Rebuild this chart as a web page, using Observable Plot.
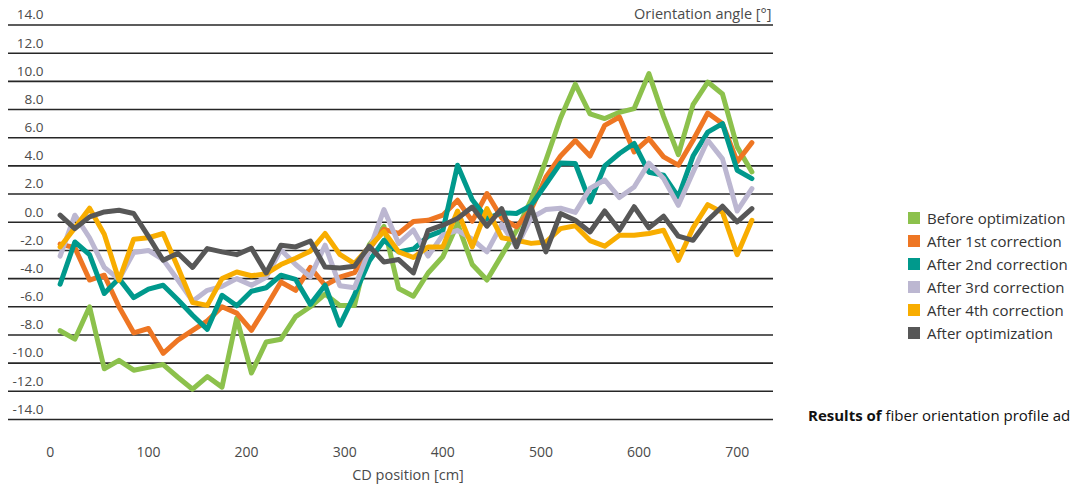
<!DOCTYPE html>
<html><head><meta charset="utf-8">
<script src="https://cdn.jsdelivr.net/npm/d3@7"></script>
<script src="https://cdn.jsdelivr.net/npm/@observablehq/plot@0.6"></script>
<style>
html,body{margin:0;padding:0;background:#fff;}
body{width:1074px;height:486px;overflow:hidden;position:relative;font-family:'Open Sans',sans-serif;}
#chart{position:absolute;left:0;top:0;}
#legend{position:absolute;left:908px;top:206px;}
.row{height:23.1px;display:flex;align-items:center;font-size:15px;color:#333;white-space:nowrap;}
.sw{width:12px;height:12px;margin-right:7px;flex:none;}
#caption{position:absolute;left:808px;top:405px;font-size:15px;line-height:20px;white-space:nowrap;color:#111;}
</style></head><body>
<div id="chart"></div>
<div id="legend"></div>
<div id="caption"><b>Results of</b> fiber orientation profile ad</div>
<script>
const cdPosition = [10,25,40,55,70,85,100,115,130,145,160,175,190,205,220,235,250,265,280,295,310,325,340,355,370,385,400,415,430,445,460,475,490,505,520,535,550,565,580,595,610,625,640,655,670,685,700,715];

const beforeOptimization = [-7.7,-8.3,-6.0,-10.4,-9.8,-10.5,-10.3,-10.1,-11.0,-11.85,-10.95,-11.7,-6.8,-10.7,-8.5,-8.3,-6.7,-6.0,-5.1,-5.9,-5.9,-1.6,-0.3,-4.7,-5.25,-3.6,-2.45,-0.1,-3.0,-4.1,-2.35,-0.6,1.6,4.4,7.4,9.8,7.7,7.36,7.8,8.07,10.55,7.5,4.8,8.35,9.95,9.1,5.35,3.57];
const after1st = [-1.55,-1.8,-4.1,-3.76,-6.0,-7.85,-7.54,-9.3,-8.37,-7.67,-7.0,-6.0,-6.45,-7.67,-6.0,-4.24,-4.83,-3.2,-4.47,-3.9,-3.58,-1.9,-0.5,-0.8,0.05,0.14,0.5,1.56,0.08,2.04,0.3,-0.33,0.9,3.2,4.7,5.8,4.7,6.88,7.47,4.99,5.94,4.64,4.05,5.82,7.75,7.0,4.3,5.65];
const after2nd = [-4.4,-1.4,-2.3,-5.06,-4.0,-5.35,-4.75,-4.47,-5.5,-6.6,-7.6,-5.18,-5.93,-4.9,-4.65,-3.76,-4.06,-5.83,-4.47,-7.31,-5.15,-2.76,-1.28,-2.1,-1.9,-1.0,-0.6,4.05,1.6,0.25,0.68,0.62,1.2,2.7,4.2,4.17,1.44,4.0,4.88,5.59,3.55,3.34,1.8,4.7,6.4,7.0,3.69,3.1];
const after3rd = [-2.4,0.5,-1.1,-3.2,-4.05,-2.15,-2.0,-2.65,-4.1,-5.6,-4.83,-4.55,-4.0,-4.47,-3.9,-1.95,-3.0,-3.88,-1.63,-4.5,-4.65,-2.0,0.9,-1.5,-0.55,-2.4,-0.9,-0.57,-1.2,-2.1,-0.15,-1.75,0.3,0.9,1.0,0.7,2.4,3.0,1.75,2.5,4.2,3.1,1.2,3.55,5.82,4.5,0.8,2.39];
const after4th = [-1.75,-0.4,1.0,-0.85,-4.12,-1.2,-1.1,-0.8,-3.2,-5.7,-5.9,-4.0,-3.53,-3.8,-3.65,-3.0,-2.55,-2.05,-0.8,-2.28,-2.93,-1.75,-0.65,-2.1,-2.5,-1.75,-1.75,0.8,-1.75,0.97,-1.1,-1.28,-1.5,-1.4,-0.45,-0.25,-1.3,-1.7,-0.92,-0.92,-0.8,-0.57,-2.7,-0.4,1.25,0.7,-2.3,0.14];
const afterOptimization = [0.5,-0.45,0.38,0.73,0.85,0.62,-1.0,-2.7,-2.2,-3.2,-1.87,-2.1,-2.3,-1.85,-3.6,-1.63,-1.75,-1.33,-3.17,-3.24,-3.12,-1.7,-2.82,-2.65,-3.6,-0.57,-0.21,0.26,1.08,-0.28,0.97,-1.75,1.08,-2.1,0.62,0.14,-0.69,0.8,-0.57,1.1,-0.4,0.43,-0.99,-1.28,0.14,1.14,0.02,0.97];

const seriesNames = ["Before optimization","After 1st correction","After 2nd correction","After 3rd correction","After 4th correction","After optimization"];
const seriesValues = [beforeOptimization, after1st, after2nd, after3rd, after4th, afterOptimization];
const seriesColors = ["#8cc14c","#ee7623","#00998c","#bcb7d1","#f8ad00","#575757"];

const yTicks = [-14,-12,-10,-8,-6,-4,-2,0,2,4,6,8,10,12,14];
const xTicks = [0,100,200,300,400,500,600,700];

const rows = [];
seriesNames.forEach((name, s) => {
  seriesValues[s].forEach((v, i) => rows.push({series: name, cd: cdPosition[i], angle: v}));
});

const chart = Plot.plot({
  width: 1074,
  height: 486,
  marginLeft: 8,
  marginRight: 301,
  marginTop: 24.5,
  marginBottom: 67,
  style: {fontFamily: "'Open Sans', sans-serif", fontSize: "14px", color: "#4a4a4a", background: "transparent"},
  x: {domain: [-42.6, 737], axis: null},
  y: {domain: [-14, 14], axis: null},
  color: {domain: seriesNames, range: seriesColors},
  marks: [
    Plot.ruleY(yTicks, {stroke: "#262626", strokeWidth: 1.6}),
    Plot.text(yTicks, {y: d => d, text: d => d.toFixed(1), frameAnchor: "left", textAnchor: "end", dx: 35, dy: -10, fontSize: 13.5, fill: "#4a4a4a"}),
    Plot.axisX(xTicks, {anchor: "bottom", tickSize: 0, tickPadding: 28, fontSize: 14, label: null, tickFormat: d => String(d)}),
    Plot.text(["CD position [cm]"], {frameAnchor: "bottom", lineAnchor: "middle", dx: 17, dy: 56, fontSize: 14.5, fill: "#4a4a4a"}),
    Plot.text(["Orientation angle [°]"], {frameAnchor: "top-right", lineAnchor: "middle", textAnchor: "end", dx: -2, dy: -10.5, fontSize: 14.5, fill: "#4a4a4a"}),
    Plot.lineY(rows, {x: "cd", y: "angle", z: "series", stroke: "series", strokeWidth: 5})
  ]
});
document.getElementById("chart").appendChild(chart);

const legend = document.getElementById("legend");
seriesNames.forEach((name, i) => {
  const row = document.createElement("div");
  row.className = "row";
  const sw = document.createElement("span");
  sw.className = "sw";
  sw.style.background = seriesColors[i];
  const label = document.createElement("span");
  label.textContent = name;
  row.appendChild(sw);
  row.appendChild(label);
  legend.appendChild(row);
});
</script>
</body></html>
